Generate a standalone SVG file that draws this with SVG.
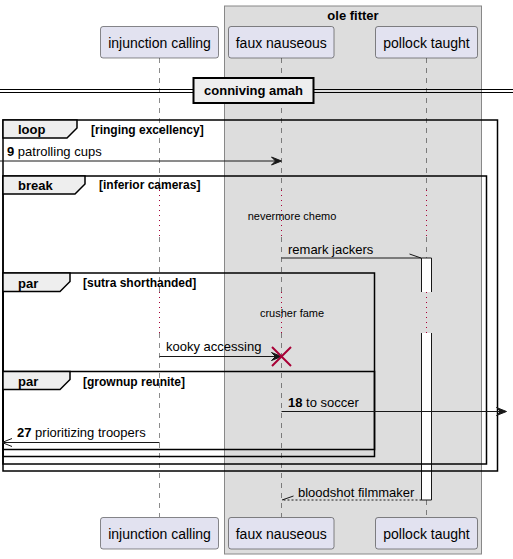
<svg xmlns="http://www.w3.org/2000/svg" width="513" height="559" viewBox="0 0 513 559">
<style>
text{font-family:"Liberation Sans",Arial,sans-serif;fill:#000}
.pt{font-size:14px;text-anchor:middle}
.msg{font-size:13px}
.b{font-weight:bold}
.gl{font-size:12px;font-weight:bold}
.tt{font-size:13px;font-weight:bold}
.dl{font-size:11px}
.part rect{fill:#E2E2F0;stroke:#181818;stroke-width:0.5}
.life{stroke:#181818;stroke-width:0.5;stroke-dasharray:5,5;fill:none}
.dot{stroke:#A80036;stroke-width:1;stroke-dasharray:1,4;fill:none}
.frame{fill:none;stroke:#000;stroke-width:1.5}
.tab{fill:#EEEEEE;stroke:#000;stroke-width:1.5}
.ln{stroke:#181818;stroke-width:1;fill:none}
.head{fill:#181818;stroke:#181818;stroke-width:1}
</style>
<g id="box-ole-fitter">
<rect x="224.5" y="6" width="257" height="548" fill="#DDDDDD" stroke="#888888" stroke-width="1"/>
<text class="tt" x="353" y="19.5" text-anchor="middle">ole fitter</text>
</g>
<g id="lifelines">
<line class="life" x1="159.5" y1="58" x2="159.5" y2="190"/>
<line class="dot" x1="159.5" y1="190" x2="159.5" y2="237"/>
<line class="life" x1="159.5" y1="237" x2="159.5" y2="292"/>
<line class="dot" x1="159.5" y1="292" x2="159.5" y2="333"/>
<line class="life" x1="159.5" y1="333" x2="159.5" y2="517"/>
<line class="life" x1="281.5" y1="58" x2="281.5" y2="190"/>
<line class="dot" x1="281.5" y1="190" x2="281.5" y2="237"/>
<line class="life" x1="281.5" y1="237" x2="281.5" y2="292"/>
<line class="dot" x1="281.5" y1="292" x2="281.5" y2="333"/>
<line class="life" x1="281.5" y1="333" x2="281.5" y2="517"/>
<line class="life" x1="426.5" y1="58" x2="426.5" y2="190"/>
<line class="dot" x1="426.5" y1="190" x2="426.5" y2="237"/>
<line class="life" x1="426.5" y1="237" x2="426.5" y2="258"/>
<line class="dot" x1="426.5" y1="292" x2="426.5" y2="333"/>
<line class="life" x1="426.5" y1="500" x2="426.5" y2="517"/>
</g>
<g id="activation">
<rect x="421.5" y="258" width="10" height="34" fill="#FFFFFF" stroke="none"/>
<rect x="421.5" y="333" width="10" height="167" fill="#FFFFFF" stroke="none"/>
<path class="ln" d="M421.5,292 V258 H431.5 V292 M421.5,333 V500 H431.5 V333"/>
</g>
<g id="divider">
<line x1="0" y1="89.5" x2="513" y2="89.5" stroke="#000" stroke-width="1"/>
<line x1="0" y1="92.5" x2="513" y2="92.5" stroke="#000" stroke-width="1"/>
<rect x="193.5" y="78" width="120" height="25" fill="#EEEEEE" stroke="#000" stroke-width="2"/>
<text class="tt" x="253.5" y="94.5" text-anchor="middle">conniving amah</text>
</g>
<g id="group-loop">
<rect class="frame" x="3" y="120" width="494.5" height="351"/>
<path class="tab" d="M3,120 H77 V128 L67,138 H3 Z"/>
<text class="tt" x="18" y="134">loop</text>
<text class="gl" x="91" y="134">[ringing excellency]</text>
</g>
<g id="group-break">
<rect class="frame" x="3" y="176" width="483.5" height="288"/>
<path class="tab" d="M3,176 H85 V184 L75,194 H3 Z"/>
<text class="tt" x="18" y="190">break</text>
<text class="gl" x="99" y="189">[inferior cameras]</text>
<text class="dl" x="292" y="220" text-anchor="middle">nevermore chemo</text>
</g>
<g id="group-par1">
<rect class="frame" x="3" y="273" width="371.5" height="183.5"/>
<path class="tab" d="M3,273 H70 V281.5 L60,291.5 H3 Z"/>
<text class="tt" x="18" y="287.5">par</text>
<text class="gl" x="83" y="287">[sutra shorthanded]</text>
<text class="dl" x="292" y="317" text-anchor="middle">crusher fame</text>
</g>
<g id="group-par2">
<rect class="frame" x="3" y="371.5" width="371.5" height="78"/>
<path class="tab" d="M3,371.5 H70 V379.5 L60,389.5 H3 Z"/>
<text class="tt" x="18" y="386">par</text>
<text class="gl" x="83" y="385.5">[grownup reunite]</text>
</g>
<g id="connectors">
<g id="msg-9">
<line class="ln" x1="0" y1="161" x2="280" y2="161"/>
<polygon class="head" points="271.5,157 281.5,161 271.5,165 275.5,161"/>
<text class="msg" x="7" y="156"><tspan class="b">9</tspan> patrolling cups</text>
</g>
<g id="msg-remark">
<line class="ln" x1="281.5" y1="258" x2="421.5" y2="258"/>
<line class="ln" x1="409.5" y1="254" x2="421" y2="258"/>
<text class="msg" x="288" y="254">remark jackers</text>
</g>
<g id="msg-kooky">
<line class="ln" x1="159.5" y1="356.5" x2="280" y2="356.5"/>
<polygon class="head" points="271.5,352.5 281.5,356.5 271.5,360.5 275.5,356.5"/>
<text class="msg" x="166" y="351">kooky accessing</text>
<path d="M272,347 L291,366 M291,347 L272,366" stroke="#A80036" stroke-width="2" fill="none"/>
</g>
<g id="msg-18">
<line class="ln" x1="281.5" y1="411.5" x2="505" y2="411.5"/>
<polygon class="head" points="496.5,407.5 506.5,411.5 496.5,415.5 500.5,411.5"/>
<text class="msg" x="288" y="407"><tspan class="b">18</tspan> to soccer</text>
</g>
<g id="msg-27">
<line class="ln" x1="159.5" y1="442.5" x2="2" y2="442.5"/>
<path class="ln" d="M12,438.5 L2,442.5 L12,446.5" stroke-width="1.5"/>
<text class="msg" x="17" y="437"><tspan class="b">27</tspan> prioritizing troopers</text>
</g>
<g id="msg-bloodshot">
<line class="ln" x1="421.5" y1="500" x2="281.5" y2="500" stroke-dasharray="2,2"/>
<line class="ln" x1="282" y1="500" x2="293.5" y2="496"/>
<text class="msg" x="298" y="496.5">bloodshot filmmaker</text>
</g>
</g>
<g id="injunction-calling" class="part">
<rect x="100.5" y="26.5" width="118" height="31.5" rx="2.5"/>
<text class="pt" x="159.5" y="48">injunction calling</text>
<rect x="100.5" y="517.5" width="118" height="31.5" rx="2.5"/>
<text class="pt" x="159.5" y="539">injunction calling</text>
</g>
<g id="faux-nauseous" class="part">
<rect x="228.5" y="26.5" width="105.5" height="31.5" rx="2.5"/>
<text class="pt" x="281.25" y="48">faux nauseous</text>
<rect x="228.5" y="517.5" width="105.5" height="31.5" rx="2.5"/>
<text class="pt" x="281.25" y="539">faux nauseous</text>
</g>
<g id="pollock-taught" class="part">
<rect x="375.5" y="26.5" width="102" height="31.5" rx="2.5"/>
<text class="pt" x="426.5" y="48">pollock taught</text>
<rect x="375.5" y="517.5" width="102" height="31.5" rx="2.5"/>
<text class="pt" x="426.5" y="539">pollock taught</text>
</g>
</svg>
